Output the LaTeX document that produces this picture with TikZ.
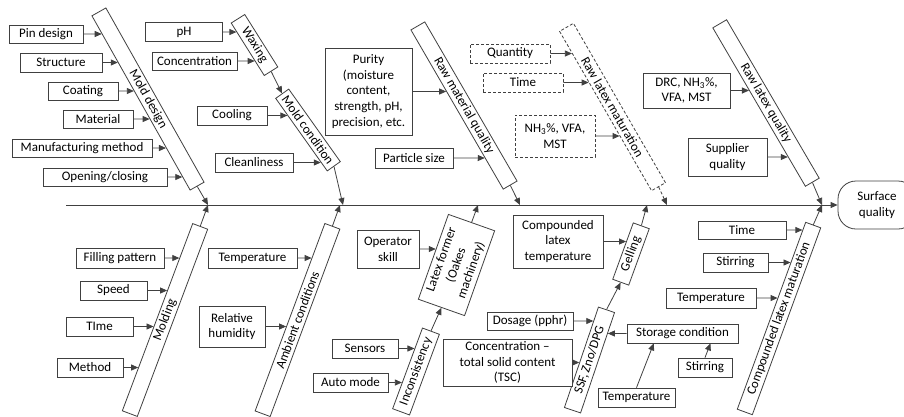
\documentclass[tikz,border=0pt]{standalone}
\usepackage{fontspec}
\setmainfont{Carlito}
\usetikzlibrary{arrows.meta,calc}
\definecolor{lcol}{HTML}{404040}
\newcommand\hto[3]{\draw[arr] (#1) -- (intersection cs: first line={(#1)--(#1 -| #2.center)}, second line={(#2.#3 west)--(#2.#3 east)});}
\begin{document}
\begin{tikzpicture}[x=1pt,y=-1pt,
  bx/.style={draw=lcol, line width=0.8pt, fill=white, inner sep=1pt, align=center,
    font=\fontsize{13}{15.75}\selectfont, text=black},
  wh/.style 2 args={minimum width=#1pt, minimum height=#2pt},
  dsh/.style={dash pattern=on 3pt off 2pt},
  arr/.style={draw=lcol, line width=0.8pt, -{Triangle[length=7pt,width=6pt]}}]
\useasboundingbox (0,0) rectangle (904,416);

% rotated category boxes (upper)
\node[bx,wh={200}{16},rotate=-60.6] (md) at (148,99) {Mold design};
\node[bx,wh={62}{16},rotate=-57.8] (wax) at (254.5,45) {Waxing};
\node[bx,wh={89}{16},rotate=-54.6] (mc) at (308,130) {Mold condition};
\node[bx,wh={184}{16},rotate=-59.9] (rmq) at (464,105.5) {Raw material quality};
\node[bx,dsh,wh={184}{16},rotate=-60] (rlm) at (612.5,107) {Raw latex maturation};
\node[bx,wh={183.5}{16},rotate=-59.7] (rlq) at (766,103) {Raw latex quality};

% rotated category boxes (lower)
\node[bx,wh={200}{16},rotate=69.4] (mol) at (165,320) {Molding};
\node[bx,wh={200}{16},rotate=69.6] (amb) at (297.5,320) {Ambient conditions};
\node[bx,wh={90}{49},rotate=70.5] (lf) at (456.5,265) {Latex former\\(Oakes\\machinery)};
\node[bx,wh={86}{18},rotate=69.7] (inc) at (416,371.5) {Inconsistency};
\node[bx,wh={60}{17},rotate=70] (gel) at (631,254) {Gelling};
\node[bx,wh={106}{17},rotate=71.3] (ssf) at (589.5,360) {SSF, Zno/DPG};
\node[bx,wh={199}{16},rotate=69.9] (clm) at (779,318.5) {Compounded latex maturation};

% effect
\node[bx,rounded corners=18pt,wh={78}{48}] (sq) at (877,205) {Surface\\quality};

% spine
\coordinate (s0) at (66,205);
\coordinate (j1) at (208,205);
\coordinate (j2) at (343,205);
\coordinate (j3) at (340,205);
\coordinate (j4) at (520,205);
\coordinate (j5) at (478,205);
\coordinate (j6) at (667,205);
\coordinate (j7) at (647,205);
\coordinate (j8) at (822,205);
\draw[arr] (s0) -- (sq.west);

% upper cause boxes
\node[bx,wh={74}{18}] (pin) at (46,34) {Pin design};
\node[bx,wh={82}{19}] (str) at (61,62.5) {Structure};
\node[bx,wh={70}{18}] (coa) at (83,91) {Coating};
\node[bx,wh={70}{18}] (mat) at (98,119) {Material};
\node[bx,wh={140}{18}] (man) at (82,148) {Manufacturing method};
\node[bx,wh={124}{18}] (ope) at (105,177) {Opening/closing};
\node[bx,wh={77}{19}] (ph) at (184,32) {pH};
\node[bx,wh={85}{18}] (con) at (194.5,61) {Concentration};
\node[bx,wh={70}{19}] (coo) at (232,115.5) {Cooling};
\node[bx,wh={78}{19}] (cle) at (254,162.5) {Cleanliness};
\node[bx,wh={87}{87}] (pur) at (368.5,91.5) {Purity\\(moisture\\content,\\strength, pH,\\precision, etc.};
\node[bx,wh={78}{20}] (par) at (414,158) {Particle size};
\node[bx,dsh,wh={80}{19}] (qua) at (510,53.5) {Quantity};
\node[bx,dsh,wh={80}{19}] (tim1) at (523,82.5) {Time};
\node[bx,dsh,wh={80}{42}] (nh) at (555,136) {NH\textsubscript{3}\%, VFA,\\MST};
\node[bx,wh={87}{35}] (drc) at (686.5,90.5) {DRC, NH\textsubscript{3}\%,\\VFA, MST};
\node[bx,wh={79}{38}] (sup) at (727.5,157) {Supplier\\quality};

% lower cause boxes
\node[bx,wh={88}{20}] (fil) at (120,258) {Filling pattern};
\node[bx,wh={67}{19}] (spe) at (113.5,290.5) {Speed};
\node[bx,wh={67}{19}] (tim2) at (99.5,326.5) {TIme};
\node[bx,wh={66}{19}] (met) at (90,367.5) {Method};
\node[bx,wh={89}{20}] (tem1) at (252.5,258) {Temperature};
\node[bx,wh={66}{41}] (rel) at (232,326.5) {Relative\\humidity};
\node[bx,wh={62}{38}] (ops) at (388,249) {Operator\\skill};
\node[bx,wh={66}{19}] (sen) at (365,348.5) {Sensors};
\node[bx,wh={75}{19}] (aut) at (350.5,382.5) {Auto mode};
\node[bx,wh={90}{53}] (clt) at (558,241.5) {Compounded\\latex\\temperature};
\node[bx,wh={86}{18}] (dos) at (530,321) {Dosage (pphr)};
\node[bx,wh={129}{47}] (tsc) at (507.5,362.5) {Concentration –\\total solid content\\(TSC)};
\node[bx,wh={111}{19}] (sto) at (682.5,333.5) {Storage condition};
\node[bx,wh={77}{19}] (tem2) at (636.5,397.5) {Temperature};
\node[bx,wh={54}{19}] (sti2) at (705,367.5) {Stirring};
\node[bx,wh={88}{18}] (tim3) at (742,230) {Time};
\node[bx,wh={65}{19}] (sti1) at (735.5,262.5) {Stirring};
\node[bx,wh={90}{20}] (tem3) at (711,298) {Temperature};

% branches to spine
\draw[arr] (md.east) -- (j1);
\draw[arr] (wax.east) -- (mc.west);
\draw[arr] (mc.east) -- (j2);
\draw[arr] (rmq.east) -- (j4);
\draw[arr,dsh] (rlm.east) -- (j6);
\draw[arr] (rlq.east) -- (j8);
\draw[arr] (mol.east) -- (j1);
\draw[arr] (amb.east) -- (j3);
\draw[arr] (inc.east) -- (lf.west);
\draw[arr] (lf.east) -- (j5);
\draw[arr] (ssf.east) -- (gel.west);
\draw[arr] (gel.east) -- (j7);
\draw[arr] (clm.east) -- (j8);

% cause arrows
\hto{pin.east}{md}{south}
\hto{str.east}{md}{south}
\hto{coa.east}{md}{south}
\hto{mat.east}{md}{south}
\hto{man.east}{md}{south}
\hto{ope.east}{md}{south}
\hto{ph.east}{wax}{south}
\hto{con.east}{wax}{south}
\hto{coo.east}{mc}{south}
\hto{cle.east}{mc}{south}
\hto{pur.east}{rmq}{south}
\hto{par.east}{rmq}{south}
\hto{qua.east}{rlm}{south}
\hto{tim1.east}{rlm}{south}
\hto{nh.east}{rlm}{south}
\hto{drc.east}{rlq}{south}
\hto{sup.east}{rlq}{south}
\hto{fil.east}{mol}{north}
\hto{spe.east}{mol}{north}
\hto{tim2.east}{mol}{north}
\hto{met.east}{mol}{north}
\hto{tem1.east}{amb}{north}
\hto{rel.east}{amb}{north}
\hto{ops.east}{lf}{north}
\hto{sen.east}{inc}{north}
\hto{aut.east}{inc}{north}
\hto{clt.east}{gel}{north}
\hto{dos.east}{ssf}{north}
\hto{tsc.east}{ssf}{north}
\hto{sto.west}{ssf}{south}
\hto{tim3.east}{clm}{north}
\hto{sti1.east}{clm}{north}
\hto{tem3.east}{clm}{north}
\draw[arr] (tem2.north) -- ($(sto.south west)!0.243!(sto.south east)$);
\draw[arr] (sti2.north) -- ($(sto.south west)!0.75!(sto.south east)$);
\end{tikzpicture}
\end{document}
